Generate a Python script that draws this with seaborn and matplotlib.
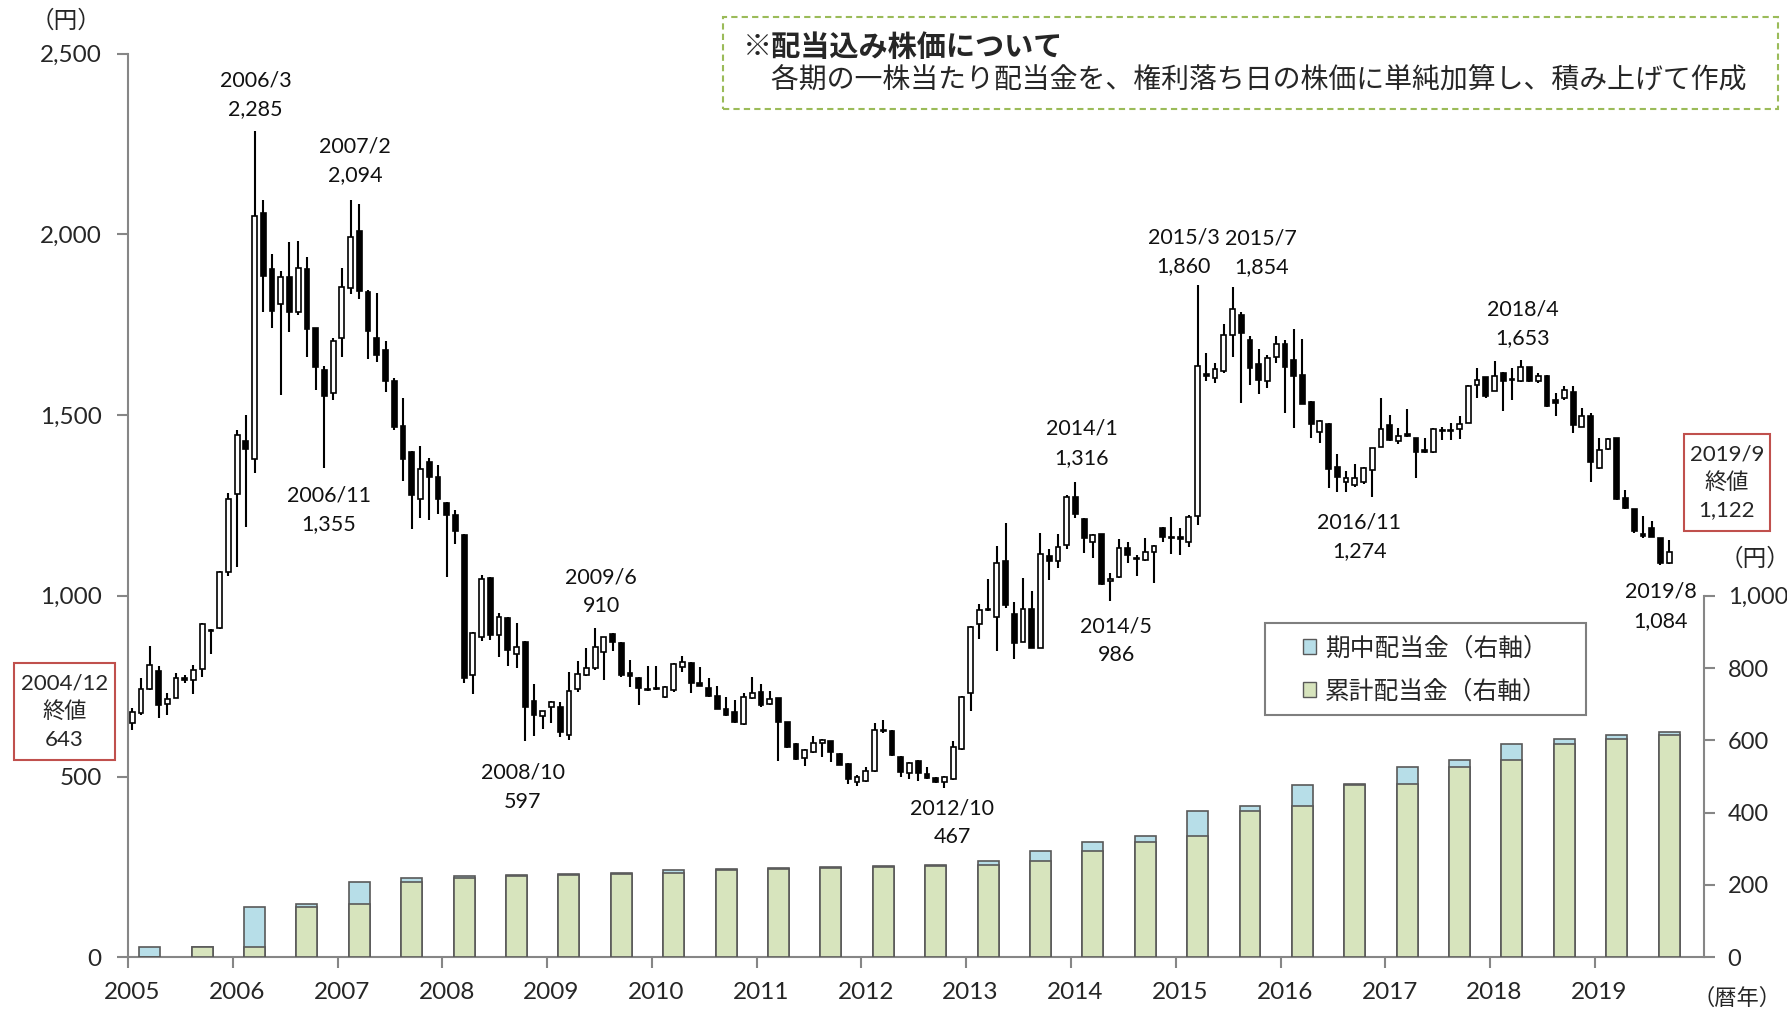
import numpy as np
import pandas as pd
import matplotlib
matplotlib.use('Agg')
import matplotlib.pyplot as plt
import seaborn as sns
from matplotlib.patches import Patch, Rectangle
from matplotlib.ticker import FuncFormatter, FixedLocator

# monthly candles 2005/1 - 2019/9 (dividend-adjusted price, yen)
months = pd.period_range('2005-01', '2019-09', freq='M')

opens = [647, 676, 743, 792, 702, 718, 772, 767, 797, 903, 912, 1067,
         1283, 1427, 1378, 2060, 1903, 1808, 1881, 1785, 1903, 1740, 1625, 1561,
         1714, 1852, 2010, 1840, 1712, 1681, 1594, 1471, 1399, 1268, 1369, 1329,
         1258, 1223, 1169, 781, 887, 1048, 892, 940, 839, 873, 709, 668,
         692, 693, 614, 741, 781, 799, 844, 894, 869, 786, 774, 742,
         744, 721, 740, 804, 815, 760, 746, 724, 687, 678, 645, 716,
         733, 701, 716, 650, 590, 550, 569, 594, 597, 562, 535, 484,
         488, 515, 629, 627, 555, 511, 543, 506, 495, 486, 492, 576,
         730, 922, 961, 942, 1095, 949, 873, 963, 857, 1110, 1095, 1141,
         1273, 1213, 1148, 1170, 1040, 1053, 1133, 1105, 1099, 1120, 1189, 1162,
         1162, 1150, 1221, 1614, 1602, 1623, 1722, 1777, 1708, 1640, 1594, 1660,
         1697, 1652, 1610, 1536, 1454, 1475, 1356, 1316, 1307, 1314, 1348, 1413,
         1473, 1427, 1448, 1436, 1403, 1399, 1457, 1459, 1462, 1479, 1583, 1604,
         1568, 1616, 1597, 1594, 1632, 1594, 1608, 1542, 1546, 1563, 1468, 1497,
         1353, 1406, 1436, 1270, 1239, 1171, 1187, 1159, 1092]
highs = [691, 772, 862, 805, 731, 787, 780, 809, 925, 907, 1069, 1284,
         1460, 1501, 2285, 2096, 1947, 1898, 1980, 1982, 1938, 1742, 1636, 1713,
         1906, 2094, 2084, 1847, 1838, 1706, 1603, 1546, 1401, 1415, 1381, 1363,
         1260, 1238, 1171, 901, 1058, 1053, 953, 942, 926, 875, 756, 682,
         708, 705, 790, 821, 855, 910, 887, 896, 871, 822, 776, 806,
         806, 751, 813, 834, 817, 802, 774, 750, 719, 712, 732, 776,
         755, 737, 718, 652, 592, 575, 613, 603, 599, 565, 537, 504,
         527, 647, 656, 630, 557, 539, 545, 526, 500, 502, 598, 723,
         917, 977, 1046, 1138, 1202, 984, 1048, 1014, 1173, 1130, 1170, 1279,
         1316, 1215, 1170, 1172, 1064, 1156, 1150, 1113, 1161, 1141, 1191, 1219,
         1187, 1224, 1860, 1673, 1643, 1752, 1854, 1786, 1719, 1682, 1666, 1719,
         1708, 1737, 1710, 1538, 1487, 1477, 1392, 1346, 1364, 1356, 1410, 1546,
         1500, 1463, 1516, 1438, 1436, 1464, 1468, 1477, 1498, 1583, 1629, 1606,
         1650, 1620, 1629, 1653, 1634, 1616, 1610, 1560, 1581, 1581, 1519, 1505,
         1438, 1438, 1438, 1293, 1241, 1222, 1207, 1161, 1154]
lows = [629, 670, 739, 661, 671, 716, 760, 727, 775, 839, 907, 1054,
        1079, 1190, 1340, 1784, 1741, 1556, 1731, 1778, 1660, 1569, 1355, 1541,
        1660, 1834, 1822, 1655, 1646, 1564, 1460, 1318, 1184, 1214, 1210, 1225,
        1051, 1143, 758, 728, 876, 878, 832, 807, 799, 597, 613, 631,
        649, 610, 601, 735, 779, 795, 767, 847, 776, 749, 698, 738,
        740, 717, 735, 790, 730, 750, 721, 687, 668, 647, 643, 714,
        693, 698, 543, 578, 546, 530, 564, 555, 539, 531, 479, 474,
        484, 513, 621, 557, 500, 492, 489, 492, 483, 467, 490, 573,
        681, 881, 958, 846, 966, 824, 871, 855, 855, 1044, 1078, 1129,
        1214, 1118, 1104, 1031, 986, 1050, 1090, 1055, 1097, 1036, 1150, 1116,
        1113, 1136, 1196, 1594, 1588, 1616, 1662, 1533, 1583, 1557, 1574, 1643,
        1505, 1463, 1530, 1436, 1424, 1297, 1286, 1286, 1302, 1309, 1274, 1411,
        1429, 1419, 1440, 1327, 1394, 1396, 1431, 1431, 1433, 1477, 1546, 1548,
        1566, 1511, 1542, 1592, 1592, 1590, 1523, 1498, 1542, 1450, 1466, 1316,
        1350, 1403, 1265, 1239, 1175, 1159, 1162, 1084, 1088]
closes = [679, 742, 808, 697, 715, 772, 768, 795, 923, 905, 1067, 1268,
          1445, 1407, 2050, 1884, 1788, 1881, 1785, 1906, 1739, 1634, 1553, 1705,
          1854, 1993, 1842, 1732, 1666, 1594, 1468, 1378, 1280, 1350, 1330, 1267,
          1223, 1179, 774, 896, 1046, 892, 941, 850, 858, 692, 670, 680,
          706, 622, 737, 784, 801, 859, 885, 873, 781, 779, 744, 740,
          742, 749, 811, 816, 758, 750, 724, 688, 670, 650, 719, 730,
          698, 715, 650, 581, 548, 573, 594, 601, 567, 533, 492, 500,
          516, 629, 626, 560, 512, 537, 509, 495, 486, 500, 583, 719,
          913, 961, 963, 1092, 975, 869, 964, 857, 1116, 1095, 1136, 1274,
          1226, 1159, 1168, 1033, 1046, 1133, 1113, 1101, 1122, 1139, 1162, 1159,
          1156, 1219, 1636, 1608, 1627, 1722, 1793, 1728, 1629, 1597, 1657, 1696,
          1634, 1608, 1532, 1475, 1485, 1350, 1330, 1325, 1325, 1353, 1408, 1462,
          1431, 1442, 1442, 1399, 1397, 1462, 1459, 1457, 1475, 1581, 1597, 1553,
          1609, 1594, 1601, 1634, 1594, 1609, 1525, 1534, 1569, 1473, 1497, 1369,
          1403, 1434, 1267, 1244, 1178, 1165, 1164, 1092, 1122]

# semi-annual dividends (right axis, yen)
div_periods = ['2005/3', '2005/9', '2006/3', '2006/9', '2007/3', '2007/9',
               '2008/3', '2008/9', '2009/3', '2009/9', '2010/3', '2010/9',
               '2011/3', '2011/9', '2012/3', '2012/9', '2013/3', '2013/9',
               '2014/3', '2014/9', '2015/3', '2015/9', '2016/3', '2016/9',
               '2017/3', '2017/9', '2018/3', '2018/9', '2019/3', '2019/9']
div_cum = [0, 28, 28, 139, 148, 208, 219, 224, 228, 231, 233, 241, 244, 246, 249,
           252, 254, 265, 295, 320, 335, 405, 419, 476, 480, 526, 546, 590, 604, 615]
div_new = [28, 0, 111, 9, 60, 11, 5, 4, 3, 2, 8, 2, 2, 3, 3,
           2, 11, 30, 25, 15, 70, 14, 57, 4, 46, 20, 44, 14, 11, 8]

# annotated highs / lows
peak_labels = ['2006/3', '2007/2', '2006/11', '2008/10', '2009/6', '2012/10', '2014/1',
               '2014/5', '2015/3', '2015/7', '2016/11', '2018/4', '2019/8']
peak_values = [2285, 2094, 1355, 597, 910, 467, 1316, 986, 1860, 1854, 1274, 1653, 1084]
peak_text_pos = [(14.1, 2386), (25.5, 2204), (22.5, 1239), (44.7, 470), (53.7, 1012),
                 (93.9, 372), (108.7, 1422), (112.7, 876), (120.4, 1951), (129.3, 1948),
                 (140.5, 1163), (159.2, 1753), (175.0, 971)]

years = list(range(2005, 2020))

sns.set_theme(style='white')
plt.rcParams['font.family'] = ['Lato', 'Noto Sans CJK JP', 'DejaVu Sans']

fig = plt.figure(figsize=(17.87, 10.10), dpi=100)
ax = fig.add_axes([0.0716, 0.0522, 0.8820, 0.8947])
ax2 = ax.twinx()

xs = np.arange(len(months))
o = np.array(opens)
c = np.array(closes)
up = c >= o
ax.vlines(xs, lows, highs, color='black', lw=1.5, zorder=2)
ax.bar(xs, np.maximum(np.abs(c - o), 2), bottom=np.minimum(o, c), width=0.55,
       color=np.where(up, 'white', 'black'), edgecolor='black', linewidth=1.2, zorder=3)

# dividend bars on right axis
bar_x = [(int(p.split('/')[0]) - 2005) * 12 + int(p.split('/')[1]) - 1 for p in div_periods]
blue = '#B7DEE8'
green = '#D7E4BD'
totals = np.array(div_cum) + np.array(div_new)
sns.barplot(x=bar_x, y=totals, native_scale=True, width=0.4, color=blue, saturation=1,
            edgecolor='#595959', linewidth=1.2, errorbar=None, ax=ax2)
sns.barplot(x=bar_x, y=div_cum, native_scale=True, width=0.4, color=green, saturation=1,
            edgecolor='#595959', linewidth=1.2, errorbar=None, ax=ax2)

for a in (ax, ax2):
    a.set_xlim(-0.5, 180)
    a.set_ylim(0, 2500)
    a.set_xlabel('')
    a.set_ylabel('')
    a.grid(False)

spine_c = '#868686'
for s in ['top', 'right']:
    ax.spines[s].set_visible(False)
ax.spines['left'].set_color(spine_c)
ax.spines['bottom'].set_color(spine_c)
ax.spines['left'].set_linewidth(1.5)
ax.spines['bottom'].set_linewidth(1.5)
for s in ['top', 'left', 'bottom']:
    ax2.spines[s].set_visible(False)
ax2.spines['right'].set_color(spine_c)
ax2.spines['right'].set_linewidth(1.5)
ax2.spines['right'].set_bounds(0, 1000)

fmt = FuncFormatter(lambda v, p: f'{int(v):,}')
ax.set_yticks(range(0, 2501, 500))
ax.yaxis.set_major_formatter(fmt)
ax2.set_yticks(range(0, 1001, 200))
ax2.yaxis.set_major_formatter(fmt)

ax.set_xticks([12 * k for k in range(len(years))])
ax.set_xticklabels([str(y) for y in years])
ax.xaxis.set_minor_locator(FixedLocator([12 * k - 0.5 for k in range(len(years))]))
ax2.tick_params(axis='x', which='both', bottom=False, top=False, labelbottom=False)
ax.tick_params(axis='x', which='major', length=0, pad=18, labelsize=17.5)
ax.tick_params(axis='x', which='minor', bottom=True, length=8, width=1.5, color=spine_c, direction='out')
ax.tick_params(axis='y', left=True, length=8, width=1.5, color=spine_c, direction='out', labelsize=17.5, pad=11)
ax2.tick_params(axis='y', right=True, length=8, width=1.5, color=spine_c, direction='out', labelsize=17, pad=9)

for lab, val, (tx, ty) in zip(peak_labels, peak_values, peak_text_pos):
    ax.text(tx, ty, f'{lab}\n{val:,}', ha='center', va='center', fontsize=15.5,
            linespacing=1.55, color='#111111')

fig.text(0.037, 0.980, '（円）', ha='center', va='center', fontsize=17)
fig.text(0.982, 0.447, '（円）', ha='center', va='center', fontsize=17)
fig.text(0.997, 0.012, '（暦年）', ha='right', va='center', fontsize=16)

# start / end boxes
fig.patches.append(Rectangle((0.00767, 0.2473), 0.0567, 0.0959, transform=fig.transFigure,
                             fill=False, edgecolor='#C0504D', lw=1.5))
fig.text(0.036, 0.2953, '2004/12\n終値\n643', ha='center', va='center', fontsize=16, linespacing=1.45)
fig.patches.append(Rectangle((0.9426, 0.4742), 0.0478, 0.0959, transform=fig.transFigure,
                             fill=False, edgecolor='#C0504D', lw=1.5))
fig.text(0.9664, 0.5221, '2019/9\n終値\n1,122', ha='center', va='center', fontsize=16, linespacing=1.45)

# note box
fig.patches.append(Rectangle((0.4044, 0.8917), 0.5906, 0.0914, transform=fig.transFigure,
                             fill=False, edgecolor='#9BBB59', lw=1.5, linestyle=(0, (3, 2))))
fig.text(0.4158, 0.9538, '※配当込み株価について', ha='left', va='center', fontsize=21,
         fontweight='bold', family=['Noto Sans CJK JP'])
fig.text(0.4158, 0.921, '　各期の一株当たり配当金を、権利落ち日の株価に単純加算し、積み上げて作成',
         ha='left', va='center', fontsize=20.1, family=['Noto Sans CJK JP'])

# legend with a hand-drawn frame
ax2.add_patch(Rectangle((0.7079, 0.2925), 0.1799, 0.0903, transform=fig.transFigure,
                        facecolor='white', edgecolor='#7F7F7F', lw=1.5, zorder=4, clip_on=False))
handles = [Patch(facecolor=blue, edgecolor='#595959'), Patch(facecolor=green, edgecolor='#595959')]
leg = ax2.legend(handles, ['期中配当金（右軸）', '累計配当金（右軸）'], loc='center left',
                 bbox_to_anchor=(0.7290, 0.3376), bbox_transform=fig.transFigure,
                 frameon=False, fontsize=17.8, handlelength=0.55, handleheight=0.55,
                 handletextpad=0.35, labelspacing=0.8, borderpad=0, borderaxespad=0)
leg.set_zorder(6)

fig.savefig('out.png', dpi=100)
